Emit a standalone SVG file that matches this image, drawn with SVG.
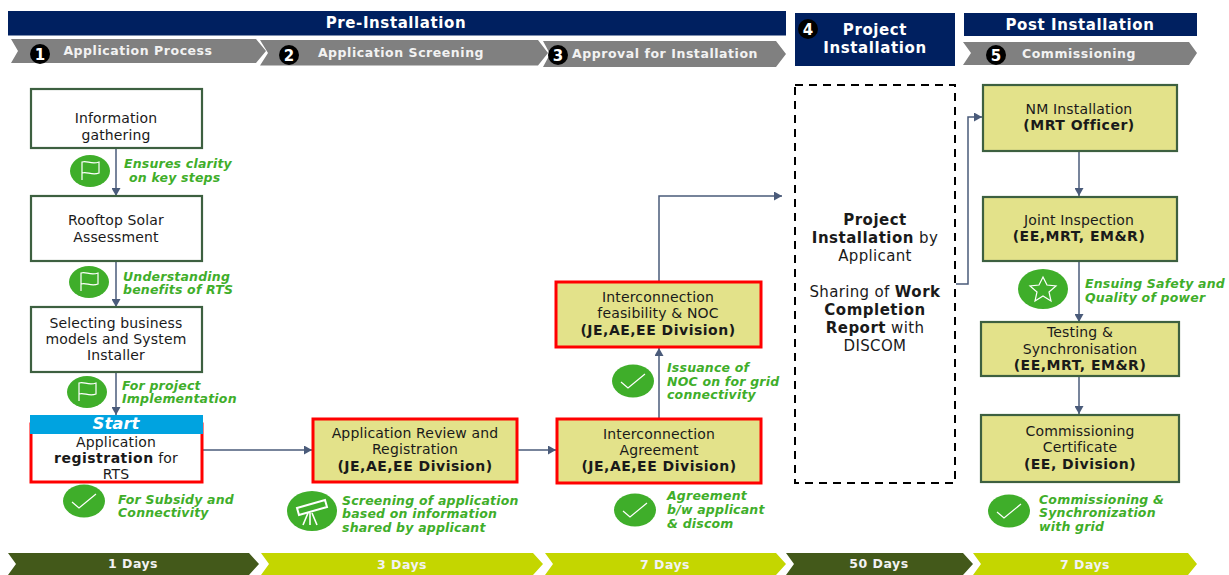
<svg xmlns="http://www.w3.org/2000/svg" width="1229" height="575" viewBox="0 0 1229 575">
<style>
text{font-family:"DejaVu Sans",Verdana,sans-serif}
.t{font-size:14px;letter-spacing:.15px;fill:#1a1a1a;text-anchor:middle}
.b{font-weight:700;letter-spacing:.5px}
.big{font-size:15px;letter-spacing:.35px}
.g{font-size:12.5px;letter-spacing:.2px;font-weight:700;font-style:italic;fill:#3fae2a}
.hd{font-size:15px;letter-spacing:.6px;font-weight:700;fill:#fff;text-anchor:middle}
.sub{font-size:12.5px;letter-spacing:.55px;font-weight:700;fill:#f2f2f2;text-anchor:middle}
.day{font-size:12.5px;letter-spacing:.5px;font-weight:700;fill:#f2f2f2;text-anchor:middle}
.num{font-size:15px;font-weight:700;fill:#fff;text-anchor:middle}
.w{fill:#fff;stroke:#3d6040;stroke-width:2.2}
.y{fill:#e3e28a;stroke:#3d6040;stroke-width:2.2}
.r{fill:#e3e28a;stroke:#f00;stroke-width:3}
.c{fill:none;stroke:#4a5b7a;stroke-width:1.5}
.ic{fill:none;stroke:#fff;stroke-width:1.2}
.gc{fill:#3fae2a}
</style>
<defs>
<marker id="a" markerUnits="userSpaceOnUse" markerWidth="9" markerHeight="9" refX="8" refY="4.5" orient="auto"><path d="M0 0L8 4.5L0 9Z" fill="#4a5b7a"/></marker>
<g id="flag"><ellipse rx="20" ry="16" class="gc"/><path class="ic" d="M-8 9V-9C-3-11 1-6 9-9V2C2 5-3 0-8 2"/></g>
<g id="check"><ellipse rx="21" ry="16.5" class="gc"/><path class="ic" d="M-12 1L-5 7L12-7"/></g>
</defs>

<g id="headers">
<rect x="8" y="11" width="778" height="24.500" fill="#002060"/>
<text class="hd" x="396" y="28">Pre-Installation</text>
<path d="M11 39H256L266 51L256 63H11L18 51Z" fill="#808080"/>
<path d="M260 40H538L548 53L538 65.500H260L268 53Z" fill="#808080"/>
<path d="M543 41H776L786 54L776 67H543L550 54Z" fill="#808080"/>
<rect x="795" y="13" width="160" height="53" fill="#002060"/>
<rect x="964" y="13" width="233" height="23" fill="#002060"/>
<path d="M963 42H1189L1197 53L1189 65H963L971 53Z" fill="#808080"/>
<text class="sub" x="138" y="55">Application Process</text>
<text class="sub" x="401" y="57">Application Screening</text>
<text class="sub" x="665" y="58">Approval for Installation</text>
<text class="hd" x="875" y="35">Project</text>
<text class="hd" x="875" y="52.500">Installation</text>
<text class="hd" x="1080" y="29.500">Post Installation</text>
<text class="sub" x="1079" y="58">Commissioning</text>
<circle cx="40" cy="54" r="10"/><text class="num" x="40" y="60">1</text>
<circle cx="289" cy="55" r="10"/><text class="num" x="289" y="61">2</text>
<circle cx="558" cy="55" r="10"/><text class="num" x="558" y="61">3</text>
<circle cx="808" cy="29" r="10"/><text class="num" x="808" y="35">4</text>
<circle cx="996" cy="55" r="10"/><text class="num" x="996" y="61">5</text>
</g>

<g id="connectors">
<path class="c" marker-end="url(#a)" d="M116 149V196"/>
<path class="c" marker-end="url(#a)" d="M116 262V307"/>
<path class="c" marker-end="url(#a)" d="M116 373V415"/>
<path class="c" marker-end="url(#a)" d="M202 450H312"/>
<path class="c" marker-end="url(#a)" d="M518 450H556"/>
<path class="c" marker-end="url(#a)" d="M659 419V348"/>
<path class="c" marker-end="url(#a)" d="M659 281V196H782"/>
<path class="c" marker-end="url(#a)" d="M956 284H968V117H982"/>
<path class="c" marker-end="url(#a)" d="M1079 152V196"/>
<path class="c" marker-end="url(#a)" d="M1079 261V322"/>
<path class="c" marker-end="url(#a)" d="M1079 377V414"/>
</g>

<g id="n1"><rect class="w" x="31" y="89" width="171" height="59"/><text class="t" x="116" y="123">Information</text><text class="t" x="116" y="140">gathering</text></g>
<g id="n2"><rect class="w" x="31" y="196" width="171" height="65"/><text class="t" x="116" y="225">Rooftop Solar</text><text class="t" x="116" y="242">Assessment</text></g>
<g id="n3"><rect class="w" x="31" y="307" width="171" height="65"/><text class="t" x="116" y="327.500">Selecting business</text><text class="t" x="116" y="344">models and System</text><text class="t" x="116" y="360">Installer</text></g>
<g id="n4"><rect x="31" y="424" width="171" height="58" fill="#fff" stroke="#f00" stroke-width="3"/><rect x="30" y="415" width="173" height="19" fill="#00a3e0"/><text x="116" y="429" text-anchor="middle" font-size="16.500" font-weight="700" font-style="italic" fill="#fff">Start</text><text class="t" x="116" y="447">Application</text><text class="t" x="116" y="463"><tspan class="b">registration</tspan> for</text><text class="t" x="116" y="479">RTS</text></g>
<g id="n5"><rect class="r" x="313" y="419" width="204" height="63"/><text class="t" x="415" y="438">Application Review and</text><text class="t" x="415" y="454">Registration</text><text class="t b" x="415" y="471">(JE,AE,EE Division)</text></g>
<g id="n6"><rect class="r" x="557" y="419" width="204" height="64"/><text class="t" x="659" y="439">Interconnection</text><text class="t" x="659" y="455">Agreement</text><text class="t b" x="659" y="471">(JE,AE,EE Division)</text></g>
<g id="n7"><rect class="r" x="556" y="282" width="205" height="65"/><text class="t" x="658" y="302">Interconnection</text><text class="t" x="658" y="318">feasibility &amp; NOC</text><text class="t b" x="658" y="335">(JE,AE,EE Division)</text></g>
<g id="n8"><rect x="795" y="85" width="160" height="398" fill="#fff" stroke="#000" stroke-width="2" stroke-dasharray="8 6"/><text class="t big" x="875" y="225"><tspan class="b">Project</tspan></text><text class="t big" x="875" y="242.500"><tspan class="b">Installation</tspan> by</text><text class="t big" x="875" y="261">Applicant</text><text class="t big" x="875" y="297">Sharing of <tspan class="b">Work</tspan></text><text class="t big" x="875" y="315"><tspan class="b">Completion</tspan></text><text class="t big" x="875" y="333"><tspan class="b">Report</tspan> with</text><text class="t big" x="875" y="351">DISCOM</text></g>
<g id="n9"><rect class="y" x="983" y="85" width="194" height="66"/><text class="t" x="1079" y="114">NM Installation</text><text class="t b" x="1079" y="130">(MRT Officer)</text></g>
<g id="n10"><rect class="y" x="983" y="197" width="194" height="64"/><text class="t" x="1079" y="225">Joint Inspection</text><text class="t b" x="1079" y="241">(EE,MRT, EM&amp;R)</text></g>
<g id="n11"><rect class="y" x="981" y="322" width="198" height="54"/><text class="t" x="1080" y="337">Testing &amp;</text><text class="t" x="1080" y="354">Synchronisation</text><text class="t b" x="1080" y="370">(EE,MRT, EM&amp;R)</text></g>
<g id="n12"><rect class="y" x="981" y="415" width="198" height="67"/><text class="t" x="1080" y="436">Commissioning</text><text class="t" x="1080" y="452">Certificate</text><text class="t b" x="1080" y="469">(EE, Division)</text></g>

<g id="notes">
<use href="#flag" x="90" y="171"/>
<text class="g" x="124" y="168">Ensures clarity</text><text class="g" x="129" y="182">on key steps</text>
<use href="#flag" x="89" y="282"/>
<text class="g" x="123" y="281">Understanding</text><text class="g" x="123" y="294">benefits of RTS</text>
<use href="#flag" x="87" y="392"/>
<text class="g" x="122" y="390">For project</text><text class="g" x="122" y="403">Implementation</text>
<use href="#check" x="84" y="501"/>
<text class="g" x="118" y="504">For Subsidy and</text><text class="g" x="118" y="517">Connectivity</text>
<g transform="translate(312 511)"><ellipse rx="25" ry="20" class="gc"/><path d="M-15-3L13-11L15-4L-13 4Z" fill="none" stroke="#fff" stroke-width="2"/><path d="M-4 2L-9 14M-2 2V14M0 2L5 14" fill="none" stroke="#fff" stroke-width="1.6"/></g>
<text class="g" x="342" y="505">Screening of application</text><text class="g" x="342" y="518">based on information</text><text class="g" x="342" y="532">shared by applicant</text>
<use href="#check" x="633" y="381"/>
<text class="g" x="667" y="372">Issuance of</text><text class="g" x="667" y="386">NOC on for grid</text><text class="g" x="667" y="399">connectivity</text>
<use href="#check" x="635" y="510"/>
<text class="g" x="667" y="500">Agreement</text><text class="g" x="667" y="514">b/w applicant</text><text class="g" x="667" y="528">&amp; discom</text>
<g transform="translate(1043 289)"><ellipse rx="25" ry="20" class="gc"/><path class="ic" d="M0-12L4-4L13-3L6 3L8 12L0 7L-8 12L-6 3L-13-3L-4-4Z"/></g>
<text class="g" x="1085" y="288">Ensuing Safety and</text><text class="g" x="1085" y="302">Quality of power</text>
<use href="#check" x="1009" y="511"/>
<text class="g" x="1039" y="504">Commissioning &amp;</text><text class="g" x="1039" y="517">Synchronization</text><text class="g" x="1039" y="531">with grid</text>
</g>

<g id="timeline">
<path d="M8 553H249L259 564L249 575H8L16 564Z" fill="#43591a"/>
<path d="M261 553H533L543 564L533 575H261L269 564Z" fill="#c4d600"/>
<path d="M545 553H776L786 564L776 575H545L553 564Z" fill="#c4d600"/>
<path d="M786 553H963L973 564L963 575H786L794 564Z" fill="#43591a"/>
<path d="M973 553H1188L1197 564L1188 575H973L981 564Z" fill="#c4d600"/>
<text class="day" x="133" y="568">1 Days</text>
<text class="day" x="402" y="569">3 Days</text>
<text class="day" x="665" y="569">7 Days</text>
<text class="day" x="879" y="568">50 Days</text>
<text class="day" x="1085" y="569">7 Days</text>
</g>
</svg>
